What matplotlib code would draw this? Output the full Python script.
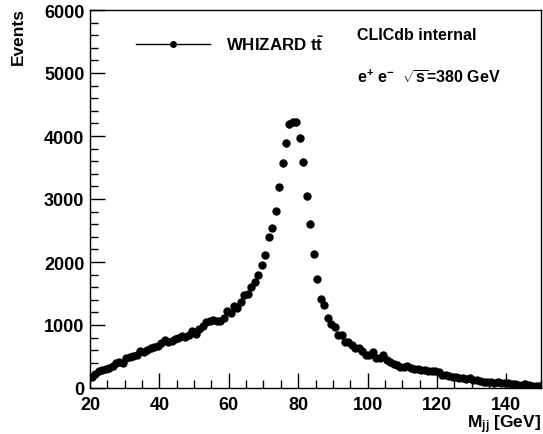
import numpy as np
import matplotlib
matplotlib.use('Agg')
import matplotlib.pyplot as plt
from matplotlib.lines import Line2D

plt.rcParams['font.family'] = ['Liberation Sans', 'DejaVu Sans']
plt.rcParams['font.weight'] = 'bold'
plt.rcParams['mathtext.fontset'] = 'custom'
plt.rcParams['mathtext.rm'] = 'Liberation Sans:bold'
plt.rcParams['mathtext.bf'] = 'Liberation Sans:bold'
plt.rcParams['mathtext.it'] = 'Liberation Sans:bold'

# bin edges of the di-jet mass histogram (1 GeV bins)
mjj_lo, mjj_hi = 20, 150
events = [
    170, 220, 265, 285, 295, 310, 345, 400, 420, 400,      # 20-30
    470, 500, 515, 520, 590, 575, 600, 640, 650, 660,      # 30-40
    720, 760, 735, 750, 770, 790, 820, 805, 840, 900,      # 40-50
    860, 940, 990, 1050, 1070, 1085, 1058, 1060, 1110, 1228,  # 50-60
    1191, 1297, 1276, 1372, 1483, 1490, 1606, 1675, 1797, 1951,  # 60-70
    2110, 2403, 2541, 2807, 3185, 3573, 3887, 4195, 4222, 4222,  # 70-80
    3966, 3589, 3046, 2610, 2126, 1738, 1420, 1319, 1110, 1020,  # 80-90
    962, 834, 834, 738, 728, 686, 633, 630, 590, 530,      # 90-100
    520, 565, 480, 475, 520, 440, 410, 375, 360, 330,      # 100-110
    340, 355, 315, 305, 300, 290, 280, 270, 265, 262,      # 110-120
    255, 210, 200, 185, 172, 170, 165, 155, 150, 160,      # 120-130
    125, 120, 110, 100, 95, 90, 85, 88, 80, 75,            # 130-140
    75, 70, 60, 55, 50, 65, 40, 38, 35, 30,                # 140-150
]
events = np.array(events, dtype=float)
centers = np.arange(mjj_lo, mjj_hi) + 0.5
errors = np.sqrt(events)

fig = plt.figure(figsize=(5.43, 4.35), dpi=100)
ax = fig.add_axes([90 / 543, 1 - 389 / 435, 451 / 543, 378 / 435])

ax.errorbar(centers, events, yerr=errors, xerr=0.5, fmt='o', color='black',
            markersize=5, elinewidth=1, capsize=0)

ax.set_xlim(mjj_lo, mjj_hi)
ax.set_ylim(0, 6000)
ax.set_xticks(np.arange(20, 150, 20))
ax.set_xticks(np.arange(20, 151, 5), minor=True)
ax.set_yticks(np.arange(0, 6001, 1000))
ax.set_yticks(np.arange(0, 6001, 200), minor=True)
ax.tick_params(which='both', direction='in', top=False, right=False)
ax.tick_params(which='major', length=11, width=1)
ax.tick_params(which='minor', length=6, width=1)
ax.tick_params(axis='x', which='major', labelsize=13, pad=6)
ax.tick_params(axis='y', which='major', labelsize=13, pad=4)
for lab in ax.get_xticklabels() + ax.get_yticklabels():
    lab.set_fontweight('bold')
for sp in ax.spines.values():
    sp.set_linewidth(1)

ax.set_ylabel('Events', fontsize=12.5, fontweight='bold', loc='top')
ax.yaxis.set_label_coords(-0.143, 1.008)
ax.set_xlabel(r'$\mathbf{M_{jj}}$ [GeV]', fontsize=12.5, fontweight='bold', loc='right')
ax.xaxis.set_label_coords(1.0, -0.064)

handle = Line2D([], [], color='black', lw=1, marker='o', markersize=4)
ax.legend([handle], [r'WHIZARD $\mathbf{t\bar{t}}$'], loc='upper left',
          bbox_to_anchor=(0.068, 0.975), frameon=False, handlelength=4.4,
          handletextpad=0.9, prop={'size': 12.2, 'weight': 'bold'}, numpoints=1)

ax.text(0.593, 0.935, 'CLICdb internal', transform=ax.transAxes, fontsize=11.5,
        fontweight='bold', ha='left', va='center')
ax.text(0.593, 0.825, r'$\mathbf{e^{+}\ e^{-}}$  $\mathbf{\sqrt{s}}$=380 GeV', transform=ax.transAxes,
        fontsize=11.5, fontweight='bold', ha='left', va='center')

fig.savefig('out.png', dpi=100)
